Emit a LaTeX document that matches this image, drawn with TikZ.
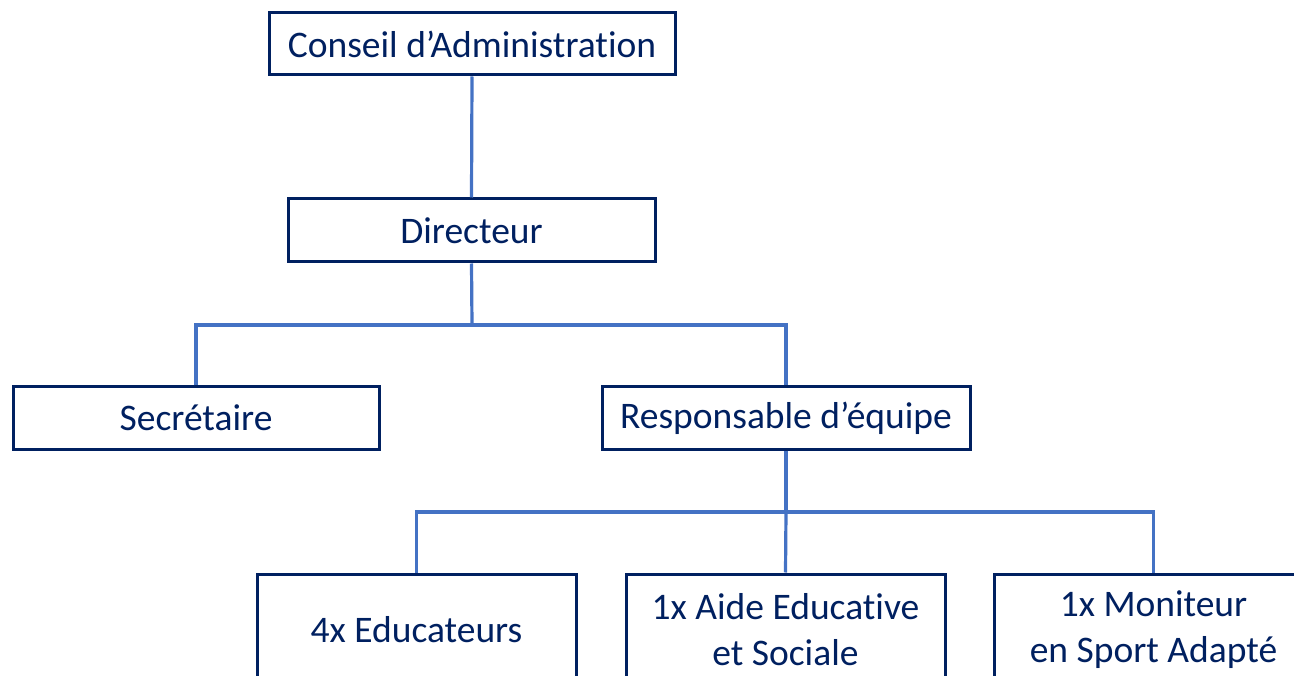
\documentclass[tikz,border=0pt]{standalone}
\usepackage{fontspec}
\setmainfont[Ligatures=NoCommon]{Carlito}
\definecolor{navy}{HTML}{002060}
\definecolor{link}{HTML}{4472C4}
\begin{document}
\begin{tikzpicture}[x=1pt,y=-1pt,
  box/.style={draw=navy,line width=3pt,fill=white,text=navy,inner sep=0pt,
    align=center,font=\fontsize{37.5}{46}\selectfont},
  topbox/.style={box,minimum height=62pt},
  lowbox/.style={box,minimum width=319pt,minimum height=112pt},
  conn/.style={draw=link,line width=3.2pt}]
\useasboundingbox (0,0) rectangle (1294,676);
\clip (0,0) rectangle (1294,676);
\coordinate (j1) at (472,325);
\coordinate (j2) at (786,512);
\node[topbox,minimum width=406pt] (conseil) at (472,44) {Conseil d’Administration};
\node[topbox,minimum width=367pt,minimum height=63pt] (dir) at (471.5,230.5) {Directeur};
\node[topbox,minimum width=366pt] (sec) at (196,418) {Secrétaire};
\node[topbox,minimum width=368pt] (resp) at (786,418) {Responsable d’équipe};
\node[lowbox] (edu) at (416.5,630) {4x Educateurs};
\node[lowbox] (aide) at (785.5,630) {1x Aide Educative\\et Sociale};
\node[lowbox] (moni) at (1153.5,630) {1x Moniteur\\en Sport Adapté};
\draw[conn] (conseil.south) -- (dir.north);
\draw[conn] (dir.south) -- (j1);
\draw[conn] (sec.north) |- (j1) -| (resp.north);
\draw[conn] (resp.south) -- (j2);
\draw[conn] (edu.north) |- (j2) -| (moni.north);
\draw[conn] (j2) -- (aide.north);
\end{tikzpicture}
\end{document}
